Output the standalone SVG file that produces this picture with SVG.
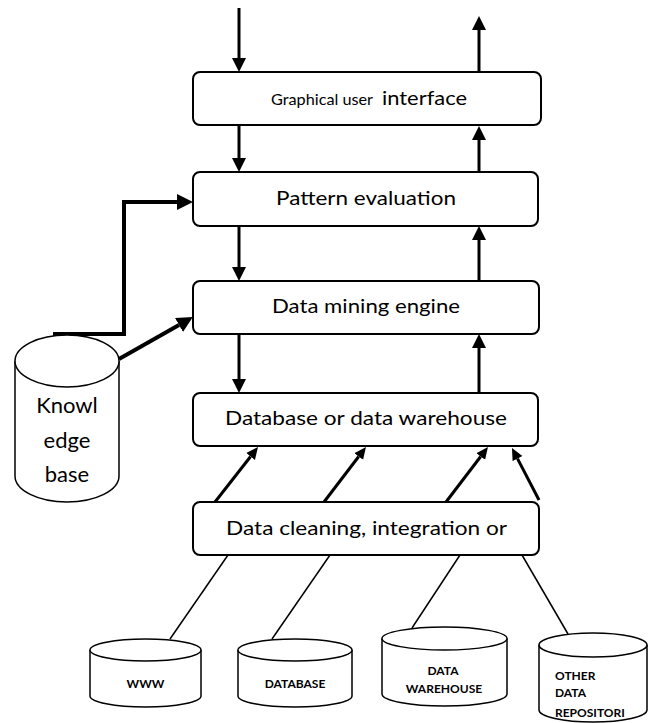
<svg xmlns="http://www.w3.org/2000/svg" width="649" height="723" viewBox="0 0 649 723">
<style>
  .box { fill: #fff; stroke: #000; stroke-width: 2; }
  .cyl { fill: #fff; stroke: #000; stroke-width: 1.5; }
  .lbl { font-family: Lato, "Liberation Sans", sans-serif; font-size: 19px; fill: #000; }
  .sm { font-family: Lato, "Liberation Sans", sans-serif; font-size: 12px; font-weight: bold; fill: #000; }
  .kb { font-family: Lato, "Liberation Sans", sans-serif; font-size: 22px; fill: #000; text-anchor: middle; }
  .a3 { stroke: #000; stroke-width: 3; fill: none; }
  .a4 { stroke: #000; stroke-width: 4; fill: none; }
  .thin { stroke: #000; stroke-width: 1.5; fill: none; }
</style>
<defs>
  <marker id="ah" markerUnits="userSpaceOnUse" markerWidth="14" markerHeight="14" refX="0" refY="7" orient="auto">
    <path d="M0,0 L14,7 L0,14 z" fill="#000"/>
  </marker>
  <marker id="ahs" markerUnits="userSpaceOnUse" markerWidth="12" markerHeight="12" refX="0" refY="6" orient="auto">
    <path d="M0,0.5 L12,6 L0,11.5 z" fill="#000"/>
  </marker>
  <marker id="ahl" markerUnits="userSpaceOnUse" markerWidth="16" markerHeight="16" refX="0" refY="8" orient="auto">
    <path d="M0,0 L16,8 L0,16 z" fill="#000"/>
  </marker>
</defs>

<g id="connectors">
  <line class="a3" x1="239" y1="8" x2="239" y2="58" marker-end="url(#ah)"/>
  <line class="a3" x1="239" y1="125" x2="239" y2="158" marker-end="url(#ah)"/>
  <line class="a3" x1="239" y1="226" x2="239" y2="267" marker-end="url(#ah)"/>
  <line class="a3" x1="239" y1="334" x2="239" y2="379" marker-end="url(#ah)"/>
  <line class="a3" x1="479" y1="72" x2="479" y2="30" marker-end="url(#ah)"/>
  <line class="a3" x1="479" y1="172" x2="479" y2="140" marker-end="url(#ah)"/>
  <line class="a3" x1="479" y1="281" x2="479" y2="240" marker-end="url(#ah)"/>
  <line class="a3" x1="479" y1="393" x2="479" y2="348" marker-end="url(#ah)"/>
  <path class="a4" d="M53,334 H124 V202 H177" marker-end="url(#ahl)"/>
  <line class="a4" x1="119" y1="359" x2="179" y2="325" marker-end="url(#ahl)"/>
  <line class="a3" x1="215" y1="502" x2="250.6" y2="456.5" marker-end="url(#ahs)"/>
  <line class="a3" x1="324" y1="502" x2="358.7" y2="456.5" marker-end="url(#ahs)"/>
  <line class="a3" x1="446" y1="502" x2="480.7" y2="456.5" marker-end="url(#ahs)"/>
  <line class="a3" x1="539" y1="500" x2="517.5" y2="458.6" marker-end="url(#ahs)"/>
  <line class="thin" x1="228" y1="555" x2="170" y2="639"/>
  <line class="thin" x1="330" y1="555" x2="272" y2="639"/>
  <line class="thin" x1="460" y1="555" x2="412" y2="628"/>
  <line class="thin" x1="522" y1="555" x2="568" y2="634"/>
</g>

<g id="gui">
  <rect class="box" x="193" y="72" width="348" height="53" rx="7"/>
  <text class="lbl" x="271" y="105" style="font-size:15px" textLength="102" lengthAdjust="spacingAndGlyphs">Graphical user</text>
  <text class="lbl" x="382" y="105" textLength="85" lengthAdjust="spacingAndGlyphs">interface</text>
</g>
<g id="pattern">
  <rect class="box" x="193" y="172" width="345" height="54" rx="7"/>
  <text class="lbl" x="276" y="205" textLength="180" lengthAdjust="spacingAndGlyphs">Pattern evaluation</text>
</g>
<g id="mining">
  <rect class="box" x="193" y="281" width="346" height="53" rx="7"/>
  <text class="lbl" x="272" y="313" textLength="188" lengthAdjust="spacingAndGlyphs">Data mining engine</text>
</g>
<g id="database-warehouse">
  <rect class="box" x="193" y="393" width="345" height="53" rx="7"/>
  <text class="lbl" x="225" y="425" textLength="282" lengthAdjust="spacingAndGlyphs">Database or data warehouse</text>
</g>
<g id="cleaning">
  <rect class="box" x="193" y="502" width="346" height="53" rx="7"/>
  <text class="lbl" x="226" y="535" textLength="281" lengthAdjust="spacingAndGlyphs">Data cleaning, integration or</text>
</g>

<g id="knowledge-base">
  <path class="cyl" d="M15,361 V476 A52,26 0 0 0 119,476 V361"/>
  <ellipse class="cyl" cx="67" cy="361" rx="52" ry="26"/>
  <text class="kb" x="67" y="413">Knowl</text>
  <text class="kb" x="67" y="448">edge</text>
  <text class="kb" x="67" y="482">base</text>
</g>

<g id="www">
  <path class="cyl" d="M90,650 V696 A55.5,11 0 0 0 201,696 V650"/>
  <ellipse class="cyl" cx="145.5" cy="650" rx="55.5" ry="11"/>
  <text class="sm" x="145.5" y="688" text-anchor="middle">WWW</text>
</g>
<g id="database">
  <path class="cyl" d="M238,650 V696 A57,11 0 0 0 352,696 V650"/>
  <ellipse class="cyl" cx="295" cy="650" rx="57" ry="11"/>
  <text class="sm" x="295" y="688" text-anchor="middle">DATABASE</text>
</g>
<g id="data-warehouse">
  <path class="cyl" d="M382,638.5 V694 A62.5,12 0 0 0 507,694 V638.5"/>
  <ellipse class="cyl" cx="444.5" cy="638.5" rx="62.5" ry="11.5"/>
  <text class="sm" x="443" y="675" text-anchor="middle">DATA</text>
  <text class="sm" x="444" y="693" text-anchor="middle">WAREHOUSE</text>
</g>
<g id="other-repositories">
  <path class="cyl" d="M539,645 V710 A54,12 0 0 0 647,710 V645"/>
  <ellipse class="cyl" cx="593" cy="645" rx="54" ry="12"/>
  <text class="sm" x="555" y="680">OTHER</text>
  <text class="sm" x="555" y="697">DATA</text>
  <text class="sm" x="555" y="717">REPOSITORI</text>
</g>
</svg>
